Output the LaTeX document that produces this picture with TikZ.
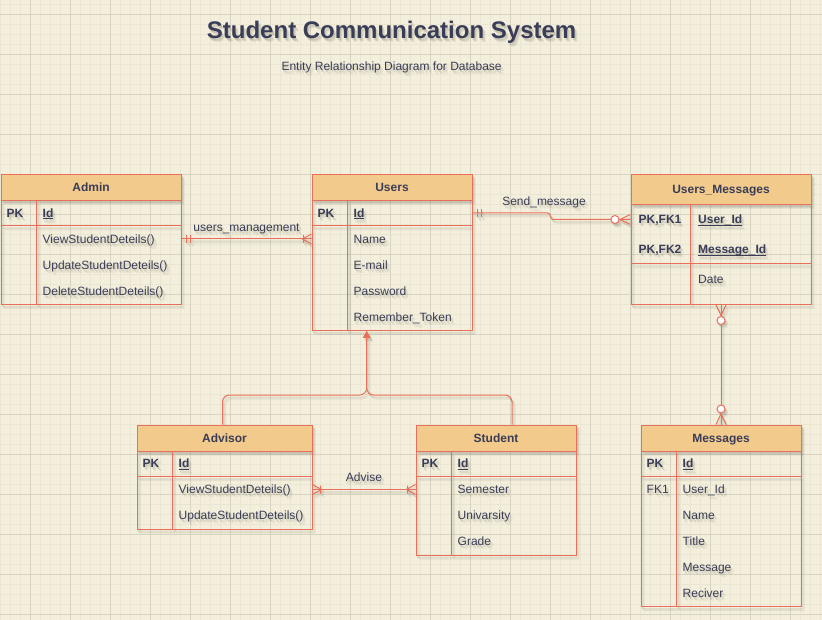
\documentclass[tikz,border=0pt]{standalone}
\usepackage{fontspec}
\setmainfont{Liberation Sans}
\usetikzlibrary{calc,arrows.meta}

\definecolor{paper}{HTML}{F3EFDC}
\definecolor{gridfine}{HTML}{EAE6D1}
\definecolor{gridbold}{HTML}{D8D4C1}
\definecolor{linebase}{HTML}{E8705A}
\definecolor{headbase}{HTML}{F2CA8C}
\definecolor{textbase}{HTML}{3A3D57}
\definecolor{shade}{HTML}{4A4438}
\colorlet{erline}{linebase}
\colorlet{erhead}{headbase}
\colorlet{ertext}{textbase}
\colorlet{ercirc}{white}

% underlined key attribute
\newcommand\keyul[1]{\setbox0\hbox{#1}\rlap{\rule[-2pt]{\wd0}{0.9pt}}\box0}
\newcommand\erfont{\fontsize{12}{14}\selectfont}

\tikzset{
  entbox/.style={draw=erline, line width=1pt, anchor=north west, inner sep=0pt},
  enthead/.style={draw=erline, fill=erhead, line width=1pt, anchor=north west,
    inner sep=0pt, font=\bfseries\erfont, text=ertext, text height=8.6pt, text depth=0pt},
  fld/.style={anchor=west, inner sep=0pt, font=\erfont, text=ertext,
    text height=8.6pt, text depth=0pt},
  keyfld/.style={fld, font=\bfseries\erfont},
  lbl/.style={inner sep=0pt, font=\erfont, text=ertext, text height=8.6pt, text depth=0pt},
  rel/.style={draw=erline, line width=1pt},
  ermark/.style={draw=erline, line width=1pt},
  circmark/.style={draw=erline, fill=ercirc, line width=1pt},
  % relationship ends, drawn with +x pointing away from the entity
  ermandone/.pic={\draw[ermark] (5,-4) -- (5,4) (8.5,-4) -- (8.5,4);},
  eronemany/.pic={\draw[ermark] (8,-4) -- (8,4) (0,-5) -- (9,0) -- (0,5);},
  erzeromany/.pic={\draw[ermark] (0,-5) -- (10.5,0) -- (0,5);
    \draw[circmark] (15.5,0) circle[radius=4pt];},
}

\newcommand\erdiagram{%
  % titles
  \node[inner sep=0pt, font=\bfseries\fontsize{24}{28}\selectfont, text=ertext,
    text height=17.2pt, text depth=0pt] (title) at (391.6,29.5) {Student Communication System};
  \node[lbl] (subtitle) at (391.6,66) {Entity Relationship Diagram for Database};

  % Admin
  \node[entbox, minimum width=180pt, minimum height=130pt] (admin) at (0.5,174) {};
  \node[enthead, minimum width=180pt, minimum height=26pt] (admin-h) at (admin.north west) {Admin};
  \draw[rel] (0.5,226) -- (180.5,226) (36.5,200) -- (36.5,304);
  \node[keyfld] (admin-k0) at (6.5,213) {PK};
  \node[keyfld] (admin-f0) at (42.5,213) {\keyul{Id}};
  \node[fld] (admin-f1) at (42.5,239) {ViewStudentDeteils()};
  \node[fld] (admin-f2) at (42.5,265) {UpdateStudentDeteils()};
  \node[fld] (admin-f3) at (42.5,291) {DeleteStudentDeteils()};

  % Users
  \node[entbox, minimum width=160pt, minimum height=156pt] (users) at (311.5,174) {};
  \node[enthead, minimum width=160pt, minimum height=26pt] (users-h) at (users.north west) {Users};
  \draw[rel] (311.5,226) -- (471.5,226) (347.5,200) -- (347.5,330);
  \node[keyfld] (users-k0) at (317.5,213) {PK};
  \node[keyfld] (users-f0) at (353.5,213) {\keyul{Id}};
  \node[fld] (users-f1) at (353.5,239) {Name};
  \node[fld] (users-f2) at (353.5,265) {E-mail};
  \node[fld] (users-f3) at (353.5,291) {Password};
  \node[fld] (users-f4) at (353.5,317) {Remember\_Token};

  % Users_Messages
  \node[entbox, minimum width=180pt, minimum height=130pt] (usrmsg) at (630.5,174) {};
  \node[enthead, minimum width=180pt, minimum height=30pt] (usrmsg-h) at (usrmsg.north west) {Users\_Messages};
  \draw[rel] (630.5,264) -- (810.5,264) (690.5,204) -- (690.5,304);
  \node[keyfld] (usrmsg-k1) at (638.5,219.5) {PK,FK1};
  \node[keyfld] (usrmsg-k2) at (638.5,249.5) {PK,FK2};
  \node[keyfld] (usrmsg-f1) at (698,219.5) {\keyul{User\_Id}};
  \node[keyfld] (usrmsg-f2) at (698,249.5) {\keyul{Message\_Id}};
  \node[fld] (usrmsg-f3) at (698,279.5) {Date};

  % Messages
  \node[entbox, minimum width=160pt, minimum height=181.5pt] (messages) at (640.5,424.5) {};
  \node[enthead, minimum width=160pt, minimum height=26pt] (messages-h) at (messages.north west) {Messages};
  \draw[rel] (640.5,476.5) -- (800.5,476.5) (676.5,450.5) -- (676.5,606);
  \node[keyfld] (messages-k0) at (646.5,463.5) {PK};
  \node[fld] (messages-k1) at (646.5,489.5) {FK1};
  \node[keyfld] (messages-f0) at (682.5,463.5) {\keyul{Id}};
  \node[fld] (messages-f1) at (682.5,489.5) {User\_Id};
  \node[fld] (messages-f2) at (682.5,515.5) {Name};
  \node[fld] (messages-f3) at (682.5,541.5) {Title};
  \node[fld] (messages-f4) at (682.5,567.5) {Message};
  \node[fld] (messages-f5) at (682.5,593.5) {Reciver};

  % Advisor
  \node[entbox, minimum width=175pt, minimum height=104pt] (advisor) at (136.5,424.5) {};
  \node[enthead, minimum width=175pt, minimum height=26pt] (advisor-h) at (advisor.north west) {Advisor};
  \draw[rel] (136.5,476.5) -- (311.5,476.5) (172.5,450.5) -- (172.5,528.5);
  \node[keyfld] (advisor-k0) at (142.5,463.5) {PK};
  \node[keyfld] (advisor-f0) at (178.5,463.5) {\keyul{Id}};
  \node[fld] (advisor-f1) at (178.5,489.5) {ViewStudentDeteils()};
  \node[fld] (advisor-f2) at (178.5,515.5) {UpdateStudentDeteils()};

  % Student
  \node[entbox, minimum width=160pt, minimum height=130pt] (student) at (415.5,424.5) {};
  \node[enthead, minimum width=160pt, minimum height=26pt] (student-h) at (student.north west) {Student};
  \draw[rel] (415.5,476.5) -- (575.5,476.5) (451.5,450.5) -- (451.5,554.5);
  \node[keyfld] (student-k0) at (421.5,463.5) {PK};
  \node[keyfld] (student-f0) at (457.5,463.5) {\keyul{Id}};
  \node[fld] (student-f1) at (457.5,489.5) {Semester};
  \node[fld] (student-f2) at (457.5,515.5) {Univarsity};
  \node[fld] (student-f3) at (457.5,541.5) {Grade};

  % users_management
  \draw[rel] (admin.east |- admin-f1) -- (users.west |- admin-f1);
  \pic at (admin.east |- admin-f1) {ermandone};
  \pic[rotate=180] at (users.west |- admin-f1) {eronemany};
  \node[lbl] (lbl-manage) at ($(admin.east |- admin-f1)!0.5!(users.west |- admin-f1)+(0,-12)$) {users\_management};

  % Send_message
  \draw[rel, rounded corners=3pt] (users.east |- users-f0) -- ++(78,0) |- (usrmsg.west |- usrmsg-f1);
  \pic at (users.east |- users-f0) {ermandone};
  \pic[rotate=180] at (usrmsg.west |- usrmsg-f1) {erzeromany};
  \node[lbl] (lbl-send) at ($(users.east |- users-f0)+(71.5,-12)$) {Send\_message};

  % Users_Messages to Messages
  \draw[rel] (usrmsg.south) -- (messages.north);
  \pic[rotate=-90] at (usrmsg.south) {erzeromany};
  \pic[rotate=90] at (messages.north) {erzeromany};

  % Advise
  \draw[rel] (advisor.east |- advisor-f1) -- (student.west |- advisor-f1);
  \pic at (advisor.east |- advisor-f1) {eronemany};
  \pic[rotate=180] at (student.west |- advisor-f1) {eronemany};
  \node[lbl] (lbl-advise) at ($(advisor.east |- advisor-f1)!0.5!(student.west |- advisor-f1)+(0,-12)$) {Advise};

  % generalisation of Advisor and Student into Users
  \coordinate (isa) at ($(users.south)+(-25.3,64)$);
  \draw[rel, rounded corners=7pt] ($(advisor.north)+(-2,0)$) |- (isa) -- (isa |- users.south);
  \draw[rel, rounded corners=7pt, -{Triangle[length=7pt,width=8pt]}]
    ($(student.north)+(16,0)$) |- (isa) -- (isa |- users.south);
}

\begin{document}
\begin{tikzpicture}[x=1pt, y=-1pt]
  \useasboundingbox (0,0) rectangle (822,620);
  \fill[paper] (0,0) rectangle (822,620);
  % drawing grid
  \foreach \gx in {0,10,...,820} \draw[gridfine, line width=0.8pt] (\gx,0) -- (\gx,620);
  \foreach \gy in {4.5,14.5,...,614.5} \draw[gridfine, line width=0.8pt] (0,\gy) -- (822,\gy);
  \foreach \gx in {30,70,...,810} \draw[gridbold, line width=0.8pt] (\gx,0) -- (\gx,620);
  \foreach \gy in {14.5,54.5,...,614.5} \draw[gridbold, line width=0.8pt] (0,\gy) -- (822,\gy);

  % soft drop shadow, built from a few offset passes
  \foreach \sx/\sy/\so in {1/-2/0.10, 2/-3/0.10, 3/-4/0.07} {
    \begin{scope}[transparency group, opacity=\so]
      \colorlet{erline}{shade}\colorlet{erhead}{shade}%
      \colorlet{ertext}{shade}\colorlet{ercirc}{shade}%
      \begin{scope}[transform canvas={xshift=\sx pt, yshift=\sy pt}]
        \erdiagram
      \end{scope}
    \end{scope}
  }

  \erdiagram
\end{tikzpicture}
\end{document}
